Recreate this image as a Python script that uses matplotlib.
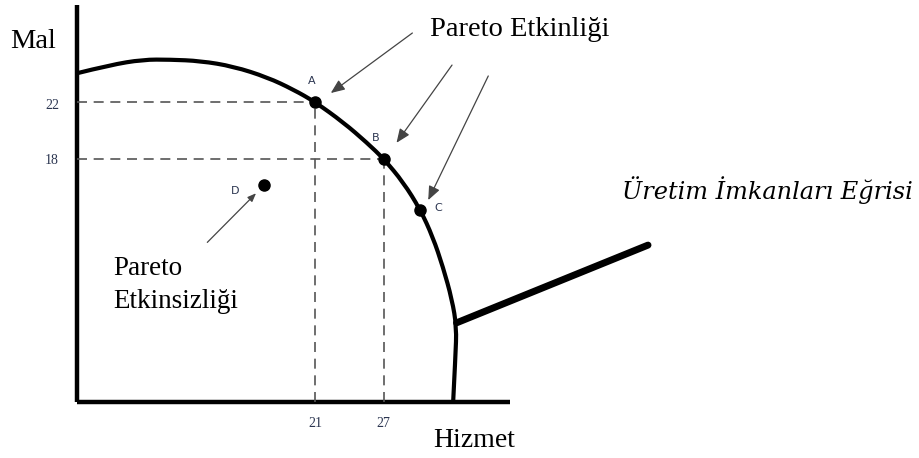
import matplotlib
matplotlib.use("Agg")
import matplotlib.pyplot as plt
from matplotlib.path import Path
from matplotlib.patches import PathPatch

# points on the production possibility curve (Hizmet, Mal)
CURVE_X = [0, 2.9, 5.8, 8.2, 10.9, 13.8, 16.8, 19.1, 21, 23.5, 25.6, 27.1,
           28.8, 30.3, 31.4, 32.3, 33.1, 33.5, 33.4, 33.2]
CURVE_Y = [24.1, 24.7, 25.1, 25.1, 25.0, 24.6, 23.8, 22.9, 22, 20.5, 19.0, 17.8,
           16.1, 14.1, 12.1, 9.9, 7.5, 5.5, 3.3, 0]

POINT_NAMES = ["A", "B", "C", "D"]
POINT_X = [21, 27.1, 30.3, 16.5]
POINT_Y = [22, 17.8, 14.1, 15.9]

X_TICKS = [21, 27]
Y_TICKS = [22, 18]

SERIF = "Liberation Serif"

fig = plt.figure(figsize=(9.19, 4.58), dpi=100)
ax = fig.add_axes([0, 0, 1, 1])
ax.set_xlim(-6.80, 74.32)
ax.set_ylim(-4.11, 29.47)
ax.axis("off")

# axes of the diagram
ax.plot([0, 0], [0, 29.1], color="black", lw=3.2, solid_capstyle="butt")
ax.plot([0, 38.2], [0, 0], color="black", lw=3.2, solid_capstyle="butt")

# dashed guides from A and B
for px, py in zip(POINT_X[:2], POINT_Y[:2]):
    ax.plot([0, px], [py, py], color="#555555", lw=1.2, ls=(0, (6, 4)))
    ax.plot([px, px], [0, py], color="#555555", lw=1.2, ls=(0, (6, 4)))

# smooth curve: read points used as quadratic bezier controls
pts = list(zip(CURVE_X, CURVE_Y))
verts = [pts[0]]
codes = [Path.MOVETO]
for i in range(1, len(pts) - 1):
    nxt = pts[i + 1] if i + 1 == len(pts) - 1 else (
        (pts[i][0] + pts[i + 1][0]) / 2, (pts[i][1] + pts[i + 1][1]) / 2)
    verts += [pts[i], nxt]
    codes += [Path.CURVE3, Path.CURVE3]
ax.add_patch(PathPatch(Path(verts, codes), fill=False, lw=3, ec="black"))

# pointer to the curve label
ax.plot([33.5, 50.4], [5.8, 11.5], color="black", lw=5, solid_capstyle="round")

ax.plot(POINT_X, POINT_Y, "o", color="black", ms=8, ls="none")

label_pos = [(20.7, 23.5), (26.4, 19.35), (31.9, 14.2), (13.95, 15.5)]
for name, (lx, ly) in zip(POINT_NAMES, label_pos):
    ax.text(lx, ly, name, fontsize=8, color="#2b3550", ha="center", va="center",
            family="DejaVu Sans")

for t in X_TICKS:
    ax.text(t, -1.55, str(t), fontsize=10, color="#2b3550", ha="center",
            va="center", family=SERIF)
for t in Y_TICKS:
    ax.text(-2.2, t - 0.3, str(t), fontsize=10, color="#2b3550", ha="center",
            va="center", family=SERIF)

# arrows
arrows = [((29.6, 27.05), (22.4, 22.65)),
          ((33.1, 24.7), (28.2, 19.0)),
          ((36.3, 23.9), (31.0, 14.8))]
for start, end in arrows:
    ax.annotate("", xy=end, xytext=start,
                arrowprops=dict(arrowstyle="-|>,head_length=0.6,head_width=0.25",
                                color="#444444", lw=0.9,
                                mutation_scale=14, shrinkA=0, shrinkB=0))
ax.annotate("", xy=(15.8, 15.3), xytext=(11.5, 11.7),
            arrowprops=dict(arrowstyle="-|>,head_length=0.5,head_width=0.2",
                            color="#444444", lw=0.9,
                            mutation_scale=10, shrinkA=0, shrinkB=0))

ax.text(-3.9, 26.4, "Mal", fontsize=20.5, family=SERIF, ha="center", va="center")
ax.text(31.4, -2.8, "Hizmet", fontsize=20, family=SERIF, ha="left", va="center")
ax.text(31.2, 27.3, "Pareto Etkinliği", fontsize=20.5, family=SERIF,
        ha="left", va="center")
ax.text(3.2, 9.8, "Pareto", fontsize=19.5, family=SERIF, ha="left", va="center")
ax.text(3.2, 7.4, "Etkinsizliği", fontsize=19.5, family=SERIF,
        ha="left", va="center")
ax.text(60.9, 15.5, "Üretim İmkanları Eğrisi", fontsize=17.3, family="DejaVu Serif",
        style="italic", ha="center", va="center")

fig.savefig("out.png", dpi=100)
